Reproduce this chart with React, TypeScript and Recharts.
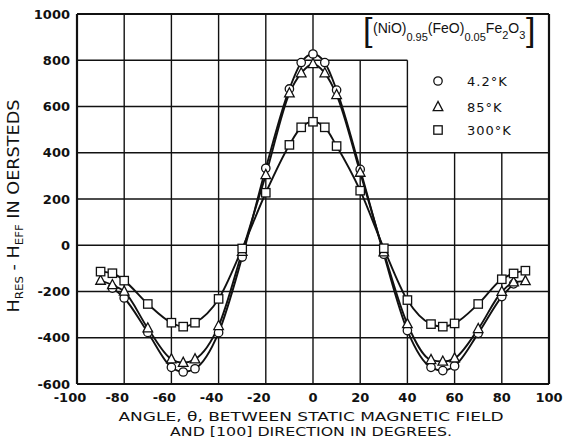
import { Legend, Line, LineChart, ReferenceLine, XAxis, YAxis } from 'recharts';

// angle θ in degrees, shared by the three runs
const ANGLES = [-90, -85, -80, -70, -60, -55, -50, -40, -30, -20, -10, -5, 0, 5, 10, 20, 30, 40, 50, 55, 60, 70, 80, 85, 90];
// H_res - H_eff in oersteds
const K4_2 = [null, -185, -228, -377, -528, -548, -534, -378, -51, 333, 676, 790, 827, 790, 671, 328, -39, -369, -528, -542, -522, -381, -222, -167, null];
const K85 = [-153, -172, -200, -359, -493, -508, -493, -349, -28, 304, 657, 744, 784, 744, 650, 314, -30, -341, -496, -503, -489, -362, -201, -160, -155];
const K300 = [-114, -121, -153, -254, -335, -352, -335, -232, -14, 227, 434, 510, 534, 510, 429, 236, -13, -237, -341, -352, -338, -254, -147, -122, -110];

const X_TICKS = [-100, -80, -60, -40, -20, 0, 20, 40, 60, 80, 100];
const Y_TICKS = [-600, -400, -200, 0, 200, 400, 600, 800, 1000];

const rows = ANGLES.map((a, i) => ({ angle: a, k4: K4_2[i], k85: K85[i], k300: K300[i] }));

const ORDER = ['k4', 'k85', 'k300'];
const SHAPES: Record<string, string> = { k4: 'circle', k85: 'triangle', k300: 'square' };
const INK = '#111';
const FONT = '"DejaVu Sans", sans-serif';

// the formula and the key sit in a blank panel at the top right, so some grid lines stop short
const gridTop = (x: number) => (x === 20 || x === 40 ? 800 : x > 40 && x < 100 ? 400 : 1000);
const gridRight = (y: number) => (y === 600 || y === 800 ? 40 : 100);

function Marker({ kind, cx, cy }: { kind: string; cx: number; cy: number }) {
  const common = { fill: '#fff', stroke: INK, strokeWidth: 1.3 };
  if (kind === 'circle') return <circle cx={cx} cy={cy} r={4.2} {...common} />;
  if (kind === 'square') return <rect x={cx - 4.2} y={cy - 4.2} width={8.4} height={8.4} {...common} />;
  return <polygon points={`${cx},${cy - 5.5} ${cx - 4.8},${cy + 3.6} ${cx + 4.8},${cy + 3.6}`} {...common} />;
}

const dotFor = (kind: string) => (p: any) => {
  if (p.cy == null || p.value == null) return <g key={`${kind}-${p.index}`} />;
  return <Marker key={`${kind}-${p.index}`} kind={kind} cx={p.cx} cy={p.cy} />;
};

function XTick({ x, y, payload }: any) {
  const v = payload.value;
  return (
    <text x={v < 0 ? x - 7 : x} y={y + 3} dy="0.71em" textAnchor="middle" fontFamily={FONT} fontWeight={700} fontSize={13} fill={INK}>
      {v}
    </text>
  );
}

function XLabel({ viewBox }: any) {
  const cx = viewBox.x + viewBox.width / 2 - 2;
  const y = viewBox.y;
  const st = { fontFamily: FONT, fontSize: 13, fill: INK, textAnchor: 'middle' as const };
  return (
    <g>
      <text x={cx} y={y + 37} textLength={385} lengthAdjust="spacingAndGlyphs" {...st}>
        ANGLE, θ, BETWEEN STATIC MAGNETIC FIELD
      </text>
      <text x={cx} y={y + 52} textLength={282} lengthAdjust="spacingAndGlyphs" {...st}>
        AND [100] DIRECTION IN DEGREES.
      </text>
    </g>
  );
}

function YLabel({ viewBox }: any) {
  const x = viewBox.x + 2;
  const y = viewBox.y + viewBox.height / 2 + 7;
  return (
    <text
      x={x}
      y={y}
      transform={`rotate(-90 ${x} ${y})`}
      textAnchor="middle"
      textLength={213}
      lengthAdjust="spacingAndGlyphs"
      fontFamily={FONT}
      fontSize={15}
      fill={INK}
    >
      H<tspan fontSize={10} dy={4}>RES</tspan>
      <tspan dy={-4}> - H</tspan>
      <tspan fontSize={10} dy={4}>EFF</tspan>
      <tspan dy={-4}>  IN OERSTEDS</tspan>
    </text>
  );
}

function LegendBox({ payload }: any) {
  const items = ORDER.map((k) => (payload || []).find((p: any) => p.dataKey === k)).filter(Boolean);
  const sans = '"Liberation Sans", sans-serif';
  return (
    <svg width={200} height={140} style={{ display: 'block' }}>
      <text x={8} y={33} fontFamily={sans} fontSize={34} fill={INK}>[</text>
      <text x={18} y={25} fontFamily={sans} fontSize={14} fill={INK}>
        (NiO)<tspan fontSize={11} dy={8}>0.95</tspan>
        <tspan dy={-8}>(FeO)</tspan>
        <tspan fontSize={11} dy={8}>0.05</tspan>
        <tspan dy={-8}>Fe</tspan>
        <tspan fontSize={11} dy={6}>2</tspan>
        <tspan dy={-6}>O</tspan>
        <tspan fontSize={11} dy={6}>3</tspan>
      </text>
      <text x={171} y={33} fontFamily={sans} fontSize={34} fill={INK}>]</text>
      {items.map((it: any, i: number) => {
        const cy = [73, 99, 122][i];
        return (
          <g key={it.dataKey}>
            <Marker kind={SHAPES[it.dataKey]} cx={83} cy={cy} />
            <text x={112} y={cy + 5} fontFamily={FONT} fontSize={13} letterSpacing={1} fill={INK}>
              {it.value}
            </text>
          </g>
        );
      })}
    </svg>
  );
}

export default function App() {
  return (
    <div style={{ position: 'absolute', left: 0, top: 0, width: 563, height: 440, background: '#fff' }}>
      <LineChart width={563} height={440} data={rows} margin={{ top: 14, right: 14, bottom: 0, left: 17 }}>
        <XAxis
          dataKey="angle"
          type="number"
          domain={[-100, 100]}
          ticks={X_TICKS}
          height={56}
          axisLine={false}
          tickLine={false}
          tickSize={4}
          tickMargin={2}
          tick={<XTick />}
          label={<XLabel />}
        />
        <YAxis
          type="number"
          domain={[-600, 1000]}
          ticks={Y_TICKS}
          width={60}
          axisLine={false}
          tickLine={false}
          tickSize={5}
          tickMargin={2}
          tick={{ fill: INK, fontFamily: FONT, fontWeight: 700, fontSize: 13 }}
          label={<YLabel />}
        />
        {X_TICKS.map((x) => (
          <ReferenceLine
            key={`v${x}`}
            segment={[{ x, y: -600 }, { x, y: gridTop(x) }]}
            stroke={INK}
            strokeWidth={x === -100 || x === 100 ? 2.2 : 1.4}
          />
        ))}
        {Y_TICKS.map((y) => (
          <ReferenceLine
            key={`h${y}`}
            segment={[{ x: -100, y }, { x: gridRight(y), y }]}
            stroke={INK}
            strokeWidth={y === -600 || y === 1000 ? 2.2 : 1.4}
          />
        ))}
        <Legend
          layout="horizontal"
          verticalAlign="middle"
          align="center"
          content={<LegendBox />}
          wrapperStyle={{ position: 'absolute', left: 355, top: 8, width: 200, height: 140 }}
        />
        <Line dataKey="k4" name="4.2°K" type="monotone" stroke={INK} strokeWidth={1.9} connectNulls dot={dotFor('circle')} isAnimationActive={false} />
        <Line dataKey="k85" name="85°K" type="monotone" stroke={INK} strokeWidth={1.9} dot={dotFor('triangle')} isAnimationActive={false} />
        <Line dataKey="k300" name="300°K" type="monotone" stroke={INK} strokeWidth={1.9} dot={dotFor('square')} isAnimationActive={false} />
      </LineChart>
    </div>
  );
}
